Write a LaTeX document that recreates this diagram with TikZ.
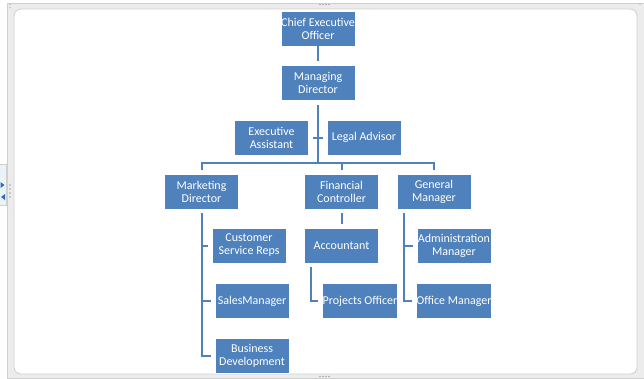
\documentclass[tikz,border=0pt]{standalone}
\usepackage{fontspec}
\setmainfont{Carlito}
\definecolor{boxblue}{HTML}{4F81BD}
\definecolor{framegrey}{HTML}{ECECEC}
\definecolor{frameline}{HTML}{CFCFCF}
\definecolor{panelblue}{HTML}{EAF2FA}
\definecolor{arrowblue}{HTML}{2E6DB4}
\begin{document}
\begin{tikzpicture}[x=1pt,y=-1pt,
  orgbox/.style={rectangle, fill=boxblue, draw=white, line width=0.6pt,
    minimum width=74pt, minimum height=35pt, inner sep=0pt,
    text=white, align=center, font=\fontsize{12}{13}\selectfont},
  conn/.style={draw=boxblue, line width=2pt},
  gap/.style={shorten <=4pt, shorten >=4pt},
  gapend/.style={shorten >=4pt},
  gapstart/.style={shorten <=4pt}]
\useasboundingbox (0,0) rectangle (644,378);
% window frame
\fill[white] (0,0) rectangle (644,378);
\filldraw[fill=framegrey, draw=frameline, line width=0.8pt] (7,3) rectangle (644.5,378.5);
\filldraw[fill=white, draw=frameline, line width=0.8pt, rounded corners=7pt] (14,9) rectangle (637,374);
\foreach \dx in {0,3,6,9} \fill[gray!70] (320+\dx,4.5) circle (0.8pt);
\foreach \dx in {0,3,6,9} \fill[gray!70] (320+\dx,376.5) circle (0.8pt);
\foreach \dy in {0,4,8,12} \fill[gray!70] (10,185+\dy) circle (0.8pt);
\fill[gray!70] (10,4.5) circle (0.7pt) (10,7.5) circle (0.7pt) (640,4.5) circle (0.7pt);
% left panel
\filldraw[fill=panelblue, draw=frameline, line width=0.6pt] (-1,164) rectangle (6,205);
\fill[arrowblue] (0.5,182) -- (4.5,185) -- (0.5,188) -- cycle;
\fill[arrowblue] (5,194) -- (1,197) -- (5,200) -- cycle;
% nodes
\node[orgbox] (ceo) at (318,28.5) {Chief Executive\\Officer};
\node[orgbox] (md) at (318,83) {Managing\\Director};
\node[orgbox] (ea) at (271.5,137.5) {Executive\\Assistant};
\node[orgbox] (la) at (364,137.5) {Legal Advisor};
\node[orgbox] (mkt) at (201.5,191.5) {Marketing\\Director};
\node[orgbox] (fc) at (341.5,191.5) {Financial\\Controller};
\node[orgbox] (gm) at (434,191.5) {General\\Manager};
\node[orgbox] (csr) at (249,245.5) {Customer\\Service Reps};
\node[orgbox] (sm) at (252,301) {SalesManager};
\node[orgbox] (bd) at (252,355.5) {Business\\Development};
\node[orgbox] (acc) at (341.5,245.5) {Accountant};
\node[orgbox] (po) at (360,301) {Projects Officer};
\node[orgbox] (adm) at (454,245.5) {Administration\\Manager};
\node[orgbox] (om) at (454,301) {Office Manager};
% junctions
\coordinate (j) at (318,163);
\coordinate (t) at (318,137.5);
\coordinate (mktr) at (202,209);
\coordinate (accr) at (311,263);
\coordinate (gmtr) at (404,209);
% connectors
\draw[conn, gap] (ceo.south) -- (md.south |- ceo.south) -- (md.north);
\draw[conn, gapstart] (md.south) -- (j);
\draw[conn, gapend] (t) -- (ea.east);
\draw[conn, gapend] (t) -- (la.west);
\draw[conn, gapend] (j) -| (mkt.north);
\draw[conn, gapend] (j) -| (fc.north);
\draw[conn, gapend] (j) -| (gm.north);
\draw[conn, gap] (mktr) |- (csr.west);
\draw[conn, gap] (mktr) |- (sm.west);
\draw[conn, gap] (mktr) |- (bd.west);
\draw[conn, gap] (fc.south) -- (acc.north);
\draw[conn, gap] (accr) |- (po.west);
\draw[conn, gap] (gmtr) |- (adm.west);
\draw[conn, gap] (gmtr) |- (om.west);
\end{tikzpicture}
\end{document}
